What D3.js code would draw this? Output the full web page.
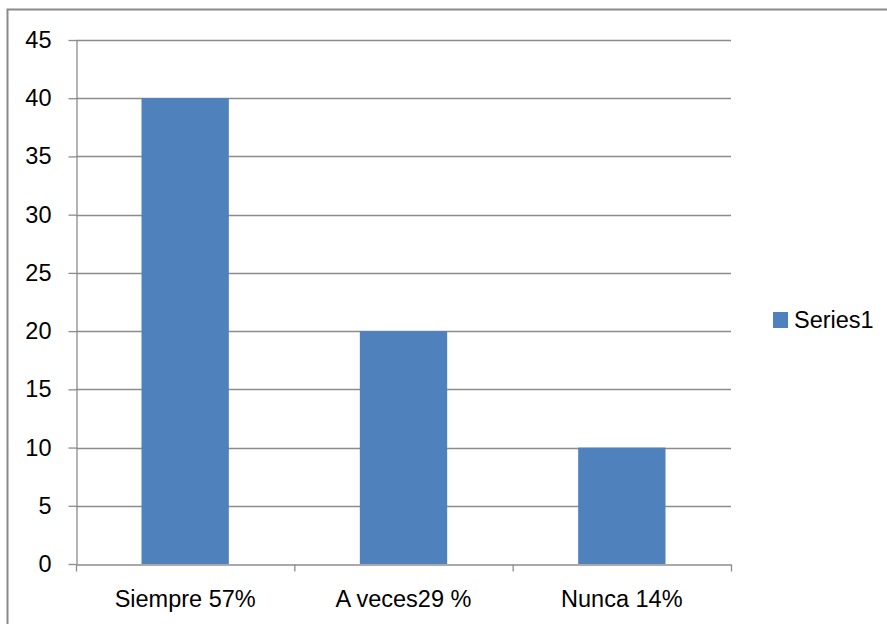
<!DOCTYPE html>
<html>
<head>
<meta charset="utf-8">
<script src="https://cdn.jsdelivr.net/npm/d3@7"></script>
<style>
  html, body { margin: 0; padding: 0; background: #fff; }
  svg { display: block; }
  text { font-family: "Liberation Sans", Arial, sans-serif; fill: #000; }
</style>
</head>
<body>
<svg id="chart" width="887" height="624"></svg>
<script>
const categories = ["Siempre 57%", "A veces29 %", "Nunca 14%"];
const values = [40, 20, 10];
const yTicks = [0, 5, 10, 15, 20, 25, 30, 35, 40, 45];
const seriesName = "Series1";

const svg = d3.select("#chart");
const W = 887, H = 624;
const plot = { left: 76, right: 731, top: 40, bottom: 564 };
const fontSize = 23.5;

// outer chart border (only top and left visible, cropped)
svg.append("rect")
  .attr("x", 7.5).attr("y", 9.5)
  .attr("width", W + 20).attr("height", H + 20)
  .attr("fill", "none").attr("stroke", "#8a8a8a").attr("stroke-width", 2);

const x = d3.scaleBand().domain(categories).range([plot.left, plot.right])
  .paddingInner(0.6).paddingOuter(0.3);
const y = d3.scaleLinear().domain([0, 45]).range([plot.bottom, plot.top]);

// gridlines
svg.append("g").selectAll("line").data(yTicks.filter(d => d > 0)).join("line")
  .attr("x1", plot.left).attr("x2", plot.right)
  .attr("y1", d => Math.round(y(d)) + 0.5).attr("y2", d => Math.round(y(d)) + 0.5)
  .attr("stroke", "#8c8c8c").attr("stroke-width", 1.3);

// bars
svg.append("g").selectAll("rect").data(values).join("rect")
  .attr("x", (d, i) => x(categories[i]))
  .attr("width", x.bandwidth())
  .attr("y", d => y(d))
  .attr("height", d => y(0) - y(d))
  .attr("fill", "#4F81BD");

// y axis
const yAxis = d3.axisLeft(y).tickValues(yTicks).tickSize(8).tickPadding(17).tickSizeOuter(0);
const gy = svg.append("g").attr("transform", `translate(${plot.left + 0.5},0)`).call(yAxis);
gy.select(".domain").attr("stroke", "#8c8c8c").attr("stroke-width", 1.3);
gy.selectAll(".tick line").attr("stroke", "#8c8c8c").attr("stroke-width", 1.3);
gy.selectAll(".tick text").style("font-size", fontSize + "px")
  .style("font-family", "'Liberation Sans', Arial, sans-serif").attr("fill", "#000");

// x axis: line with category boundary ticks
const xLine = d3.scaleLinear().domain([0, categories.length]).range([plot.left, plot.right]);
const xAxis = d3.axisBottom(xLine).tickValues(d3.range(0, categories.length + 1))
  .tickSize(7).tickSizeOuter(0).tickFormat("");
const gx = svg.append("g").attr("transform", `translate(0,${plot.bottom + 0.5})`).call(xAxis);
gx.select(".domain").attr("stroke", "#8c8c8c").attr("stroke-width", 1.3);
gx.selectAll(".tick line").attr("stroke", "#8c8c8c").attr("stroke-width", 1.3);

// category labels
svg.append("g").selectAll("text").data(categories).join("text")
  .attr("x", d => x(d) + x.bandwidth() / 2)
  .attr("y", 607)
  .attr("text-anchor", "middle")
  .style("font-size", fontSize + "px")
  .text(d => d);

// legend
const lg = svg.append("g");
lg.append("rect").attr("x", 773).attr("y", 312).attr("width", 15).attr("height", 16).attr("fill", "#4F81BD");
lg.append("text").attr("x", 794).attr("y", 327.5).style("font-size", fontSize + "px").text(seriesName);
</script>
</body>
</html>
